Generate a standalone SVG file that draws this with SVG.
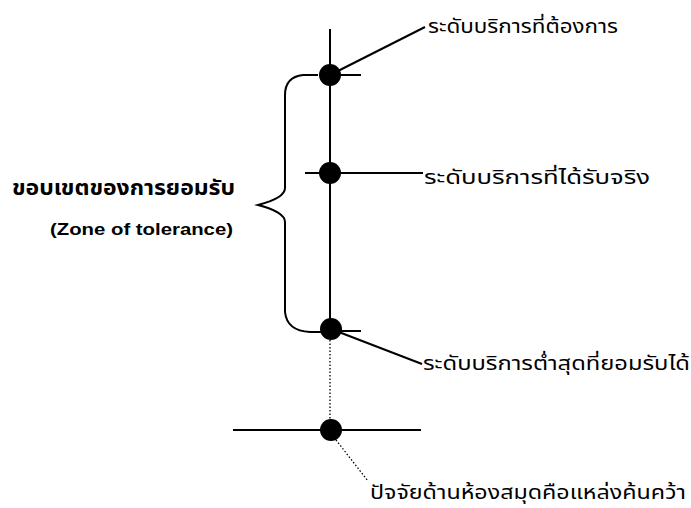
<svg xmlns="http://www.w3.org/2000/svg" width="691" height="508" viewBox="0 0 691 508">
<style>
.ln{stroke:#000;stroke-width:2;fill:none}
.dt{stroke:#000;stroke-width:1.3;fill:none;stroke-dasharray:1.5 2}
.dot{fill:#000}
.th{font-family:"Noto Sans Thai","Loma","Tlwg Typo","Garuda","Noto Sans","DejaVu Sans",sans-serif;font-size:19px;fill:#000}
.thb{font-family:"Noto Sans Thai","Loma","Garuda","Noto Sans","DejaVu Sans",sans-serif;font-size:21px;font-weight:bold;fill:#000}
.en{font-family:"Liberation Sans",Arial,sans-serif;font-size:17px;font-weight:bold;fill:#000}
</style>
<rect width="691" height="508" fill="#fff"/>
<g id="connectors">
<line class="ln" x1="330" y1="29" x2="330" y2="329"/>
<line class="dt" x1="330" y1="340" x2="330" y2="422"/>
<line class="ln" x1="233" y1="430" x2="421" y2="430"/>
<line class="dt" x1="336" y1="440" x2="368" y2="481"/>
<line class="ln" x1="330" y1="75" x2="361" y2="75"/>
<line class="ln" x1="305" y1="173" x2="423" y2="173"/>
<line class="ln" x1="330" y1="331" x2="361" y2="331"/>
<line class="ln" x1="330" y1="75" x2="425" y2="27"/>
<line class="ln" x1="331" y1="329" x2="422" y2="364"/>
<path class="ln" d="M318,75 L303,75 Q285,77 285,95 L285,188 Q285,198 258,205 Q285,212 285,222 L285,312 Q287,331 310,332 L330,332"/>
</g>
<g id="node-desired">
<circle class="dot" cx="330" cy="75" r="11"/>
<text class="th" x="428" y="33" textLength="190" lengthAdjust="spacingAndGlyphs">ระดับบริการที่ต้องการ</text>
</g>
<g id="node-perceived">
<circle class="dot" cx="330" cy="173" r="11"/>
<text class="th" x="424" y="184" textLength="226" lengthAdjust="spacingAndGlyphs">ระดับบริการที่ได้รับจริง</text>
</g>
<g id="node-adequate">
<circle class="dot" cx="331" cy="329" r="11"/>
<text class="th" x="423" y="370" textLength="267" lengthAdjust="spacingAndGlyphs">ระดับบริการต่ำสุดที่ยอมรับได้</text>
</g>
<g id="node-factor">
<circle class="dot" cx="331" cy="430" r="11"/>
<text class="th" x="370" y="499" font-size="18" textLength="316" lengthAdjust="spacingAndGlyphs">ปัจจัยด้านห้องสมุดคือแหล่งค้นคว้า</text>
</g>
<g id="zone-label">
<text class="thb" x="12" y="195" textLength="223" lengthAdjust="spacingAndGlyphs">ขอบเขตของการยอมรับ</text>
<text class="en" x="50" y="235" textLength="183" lengthAdjust="spacingAndGlyphs">(Zone of tolerance)</text>
</g>
</svg>
